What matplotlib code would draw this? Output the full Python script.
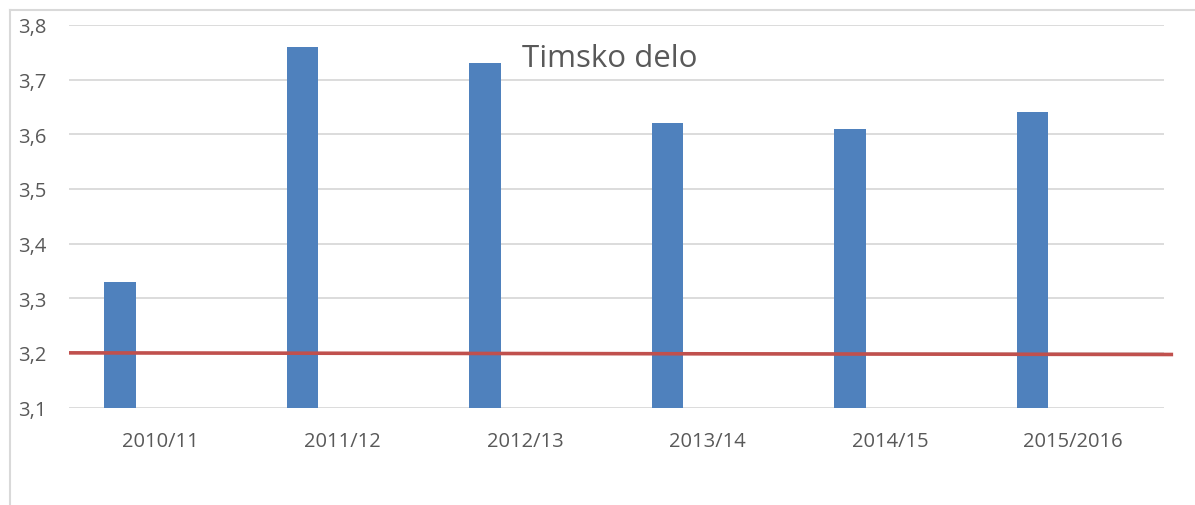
import matplotlib
matplotlib.use("Agg")
import matplotlib.pyplot as plt
from matplotlib.lines import Line2D
from matplotlib.ticker import FuncFormatter
import numpy as np

categories = ["2010/11", "2011/12", "2012/13", "2013/14", "2014/15", "2015/2016"]
values = [3.33, 3.76, 3.73, 3.62, 3.61, 3.64]
reference_line = [3.2, 3.197]
title = "Timsko delo"

W, H = 1195, 506
fig = plt.figure(figsize=(W / 100, H / 100), dpi=100)
plt.rcParams['font.family'] = ['Open Sans', 'DejaVu Sans']

ax = fig.add_axes([69 / W, 1 - 408.5 / H, (1164 - 69) / W, (408.5 - 26) / H])

x = np.arange(len(categories))
ax.bar(x - 0.22, values, width=0.172, color="#4F81BD", zorder=2)
ax.set_xlim(-0.5, len(categories) - 0.5)
ax.set_ylim(3.1, 3.8)
ax.set_yticks(np.arange(3.1, 3.81, 0.1))
ax.yaxis.set_major_formatter(FuncFormatter(lambda v, p: f"{v:.1f}".replace(".", ",")))
ax.set_xticks(x)
ax.set_xticklabels(categories)
ax.grid(axis="y", color="#D9D9D9", linewidth=1.3, zorder=0)
for s in ax.spines.values():
    s.set_visible(False)
ax.tick_params(axis="both", length=0, colors="#595959", labelsize=14.5)
ax.tick_params(axis="y", pad=37)
ax.tick_params(axis="x", pad=17)
for lbl in ax.get_yticklabels():
    lbl.set_horizontalalignment("left")

# red reference line extending slightly past plot area
ax.plot([-0.5, len(categories) - 0.5 + 0.05], reference_line, color="#C0504D",
        linewidth=2.6, zorder=3, clip_on=False, solid_capstyle="butt")

ax.text(0.494, 0.914, title, transform=ax.transAxes, ha="center", va="center",
        fontsize=22.5, color="#595959")

# outer border lines
fig.add_artist(Line2D([10 / W, 10 / W], [0, 1 - 11 / H], transform=fig.transFigure,
                      color="#D9D9D9", linewidth=1.5))
fig.add_artist(Line2D([10 / W, 1], [1 - 11 / H, 1 - 11 / H], transform=fig.transFigure,
                      color="#D9D9D9", linewidth=1.5))

fig.savefig("out.png", dpi=100)
